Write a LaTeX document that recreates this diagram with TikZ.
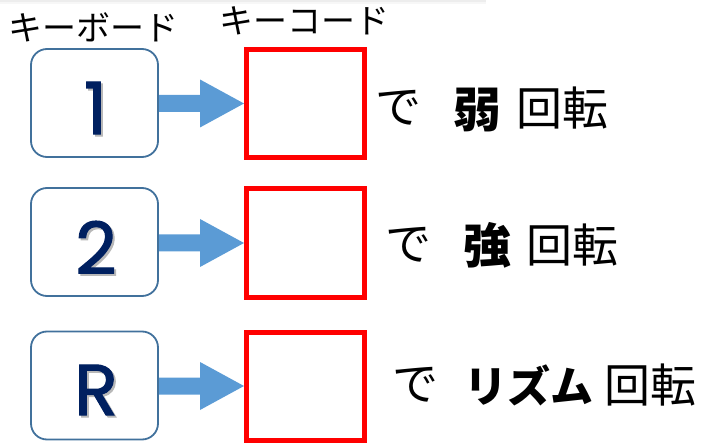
\documentclass[tikz,border=0pt]{standalone}
\usepackage{fontspec}
\newfontfamily\jp{Noto Sans CJK JP}
\newfontfamily\keyfont[FakeBold=1.6]{Poppins}
\usetikzlibrary{calc}
\definecolor{keyblue}{HTML}{41719C}
\definecolor{arrowblue}{HTML}{5B9BD5}
\definecolor{navy}{HTML}{002060}
\newcommand{\shadowed}[1]{\makebox[0pt][l]{\kern2pt\lower2pt\hbox{\color{black!28}#1}}#1}
\tikzset{
  keybox/.style={draw=keyblue, line width=1.8, rounded corners=16, minimum width=127, minimum height=108, inner sep=0, fill=white},
  codebox/.style={draw=red, line width=5, minimum width=118, minimum height=108, inner sep=0},
  keylabel/.style={font=\keyfont\fontsize{72}{72}\selectfont, text=navy, inner sep=0},
  header/.style={font=\jp\fontsize{34}{34}\selectfont, inner sep=0},
  txt/.style={font=\jp\fontsize{46}{46}\selectfont, inner sep=0},
  boldtxt/.style={font=\jp\bfseries\fontsize{48}{48}\selectfont, inner sep=0},
  boldtxtsm/.style={font=\jp\bfseries\fontsize{43}{43}\selectfont, inner sep=0}
}
\begin{document}
\begin{tikzpicture}[x=1pt,y=-1pt]
\useasboundingbox (0,0) rectangle (709,446);
\fill[black!7] (0,0) rectangle (486,2);
\fill[black!3] (0,2) rectangle (486,4);

% headers
\node[header] (h1) at (93.5,27.5) {キーボード};
\node[header] (h2) at (304.5,21) {キーコード};

% boxes
\foreach \i/\ky/\ry in {1/103/103.5, 2/242/243, 3/385.5/386}{
  \node[codebox] (r\i) at (305.5,\ry) {};
  \fill[arrowblue] ($(r\i.west)+(-86,-8.5)$) coordinate (a\i) -- ($(r\i.west)+(-44,-8.5)$) -- ($(r\i.west)+(-44,-24)$) -- (r\i.west) -- ($(r\i.west)+(-44,24)$) -- ($(r\i.west)+(-44,8.5)$) -- ($(r\i.west)+(-86,8.5)$) -- cycle;
  \node[keybox] (k\i) at (94.5,\ky) {};
}

% key labels
\node[keylabel] (d1) at (95.5,109) {\shadowed{1}};
\node[keylabel] (d2) at (96,248.5) {\shadowed{2}};
\node[keylabel] (d3) at (96,391) {\shadowed{R}};

% row texts
\node[txt] (t1a) at (398,108) {で};
\node[boldtxt] (t1b) at (477,110) {弱};
\node[txt] (t1c) at (562,108) {回転};

\node[txt] (t2a) at (408,245) {で};
\node[boldtxt] (t2b) at (487,245) {強};
\node[txt] (t2c) at (572,245) {回転};

\node[txt] (t3a) at (415,385) {で};
\node[boldtxtsm] (t3b) at (529,385) {リズム};
\node[txt] (t3c) at (650,385) {回転};
\end{tikzpicture}
\end{document}
